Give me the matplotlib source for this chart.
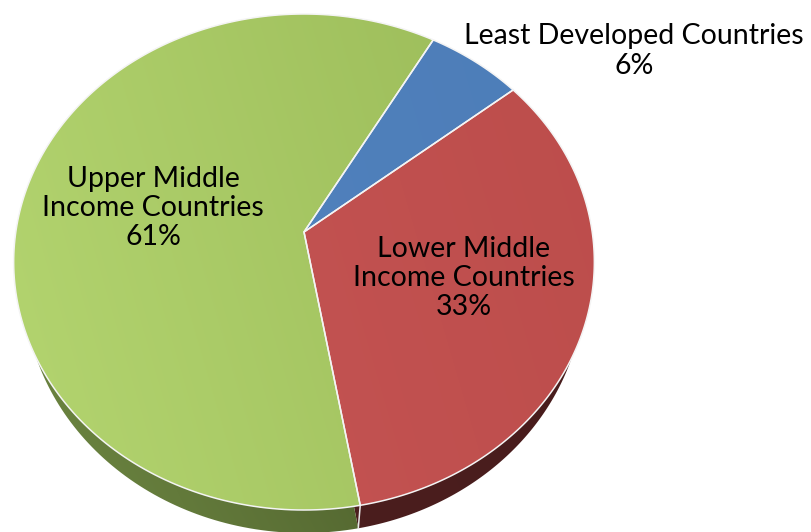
import numpy as np
import matplotlib
matplotlib.use('Agg')
import matplotlib.pyplot as plt
from matplotlib.patches import Polygon

# chart data
names = ['Least Developed\nCountries', 'Lower Middle\nIncome Countries', 'Upper Middle\nIncome Countries']
values = [6, 33, 61]

plt.rcParams['font.family'] = ['Lato', 'DejaVu Sans']

# (start colour, end colour) of the top face and of the side, left to right
top_colors = [((82, 132, 192), (77, 125, 184)),
              ((200, 86, 86), (188, 77, 75)),
              ((180, 213, 112), (153, 185, 87))]
side_colors = [((50, 75, 110), (50, 75, 110)),
               ((78, 32, 32), (72, 28, 28)),
               ((112, 138, 68), (60, 74, 32))]

TILT = 0.121


# circle to picture: a tilted disc, so the hub is not the middle of the ellipse
def project(theta, r, hub_y, a, d):
    x = r * np.sin(theta)
    y = r * np.cos(theta)
    w = 1 + TILT * y
    return 304 + d * x / w, (hub_y + a * y) / w


def wedge(start, stop, hub_y, a, d):
    t = np.radians(np.linspace(start, stop, 200))
    xs, ys = project(t, 1.0, hub_y, a, d)
    return np.column_stack([np.r_[304, xs], np.r_[hub_y, ys]])


def gradient(ax, pts, colors, box):
    c0, c1 = np.array(colors[0]) / 255, np.array(colors[1]) / 255
    x0, x1, y0, y1 = box
    xx, yy = np.meshgrid(np.linspace(0, 1, 200), np.linspace(0, 1, 200))
    # lighter towards the lower left
    f = np.clip(0.8 * xx + 0.2 * (1 - yy), 0, 1)[..., None]
    im = ax.imshow(c0 + (c1 - c0) * f, extent=(x0, x1, y1, y0), aspect='auto',
                   interpolation='bilinear', zorder=2)
    poly = Polygon(pts, closed=True, transform=ax.transData)
    im.set_clip_path(poly)


fig = plt.figure(figsize=(8.11, 5.32), dpi=100)
ax = fig.add_axes([0, 0, 1, 1])

total = sum(values)
angle = 29.7
for i, v in enumerate(values):
    stop = angle + v / total * 360

    # side of the disc
    base = wedge(angle, stop, 255, -213.5, 278)
    gradient(ax, base, side_colors[i], (30, 580, 280, 540))
    if i == 1:
        # seam between the red and green sides
        bx, by = project(np.radians(stop), 1.0, 255, -213.5, 278)
        tx, ty = project(np.radians(stop), 1.0, 232, -216.3, 288.2)
        ax.plot([tx, bx], [ty, by], color='#e8e8e8', lw=1.1, zorder=3)
    angle = stop

angle = 29.7
for i, v in enumerate(values):
    stop = angle + v / total * 360
    top = wedge(angle, stop, 232, -216.3, 288.2)
    gradient(ax, top, top_colors[i], (14, 594, 14, 511))
    ax.add_patch(Polygon(top, closed=True, fill=False, edgecolor='#f4f4f4', lw=1.1, zorder=4))
    angle = stop

# labels
text_size = 20.5
ax.text(634, 51, 'Least Developed Countries\n%d%%' % values[0], ha='center', va='center',
        fontsize=text_size, linespacing=1.15, color='black', zorder=5)
ax.text(464, 278, '%s\n%d%%' % (names[1], values[1]), ha='center', va='center',
        fontsize=text_size, linespacing=1.15, color='black', zorder=5)
ax.text(153, 208, '%s\n%d%%' % (names[2], values[2]), ha='center', va='center',
        fontsize=text_size, linespacing=1.15, color='black', zorder=5)

ax.set_xlim(0, 811)
ax.set_ylim(532, 0)
ax.axis('off')

plt.savefig('out.png', dpi=100)
